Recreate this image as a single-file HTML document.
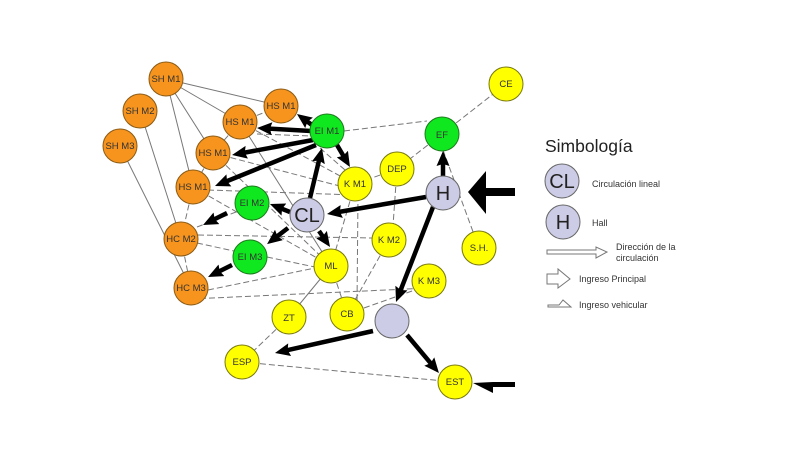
<!DOCTYPE html>
<html><head><meta charset="utf-8"><style>
html,body{margin:0;padding:0;background:#fff}
svg{display:block;font-family:"Liberation Sans",sans-serif}
.t line{stroke:#777;stroke-width:1}
.d line{stroke:#777;stroke-width:1;stroke-dasharray:6 3}
.a line{stroke:#000;stroke-width:4.5}
.o{fill:#f7941e;stroke:#8a5a14;stroke-width:1}
.g{fill:#0fe81f;stroke:#1c7a1c;stroke-width:1}
.y{fill:#ffff00;stroke:#77770f;stroke-width:1}
.p{fill:#ccccE6;stroke:#666;stroke-width:1}
.n text{font-size:9.5px;text-anchor:middle;fill:#333}
.n text.b{font-size:20px;fill:#222}
.l text{font-size:9px;fill:#333}
</style></head><body>
<svg width="800" height="450" viewBox="0 0 800 450" xmlns="http://www.w3.org/2000/svg">
<defs>
<marker id="m" markerUnits="userSpaceOnUse" markerWidth="16" markerHeight="14" refX="7" refY="6.500" orient="auto"><path d="M0 0L15 6.500L0 13L2 6.500Z" fill="#000"/></marker>
</defs>
<rect width="800" height="450" fill="#fff"/>
<g class="t">
<line x1="166" y1="79" x2="281" y2="106"/>
<line x1="166" y1="79" x2="240" y2="122"/>
<line x1="166" y1="79" x2="213" y2="153"/>
<line x1="166" y1="79" x2="193" y2="187"/>
<line x1="140" y1="111" x2="181" y2="239"/>
<line x1="120" y1="146" x2="191" y2="288"/>
<line x1="240" y1="122" x2="331" y2="266"/>
<line x1="331" y1="266" x2="289" y2="317"/>
</g>
<g class="d">
<line x1="240" y1="122" x2="281" y2="106"/>
<line x1="257" y1="134" x2="311" y2="136"/>
<line x1="240" y1="122" x2="213" y2="153"/>
<line x1="240" y1="122" x2="355" y2="184"/>
<line x1="213" y1="153" x2="193" y2="187"/>
<line x1="213" y1="153" x2="355" y2="190"/>
<line x1="213" y1="153" x2="331" y2="266"/>
<line x1="193" y1="187" x2="181" y2="239"/>
<line x1="208" y1="190" x2="355" y2="195"/>
<line x1="193" y1="187" x2="331" y2="266"/>
<line x1="181" y1="239" x2="191" y2="288"/>
<line x1="197" y1="227" x2="236" y2="212"/>
<line x1="198" y1="235" x2="372" y2="238"/>
<line x1="197" y1="243" x2="234" y2="251"/>
<line x1="267" y1="257" x2="315" y2="267"/>
<line x1="208" y1="290" x2="315" y2="268"/>
<line x1="191" y1="299" x2="429" y2="288"/>
<line x1="344" y1="131" x2="427" y2="121"/>
<line x1="320" y1="148" x2="345" y2="170"/>
<line x1="442" y1="134" x2="506" y2="84"/>
<line x1="442" y1="134" x2="397" y2="169"/>
<line x1="397" y1="169" x2="355" y2="184"/>
<line x1="397" y1="169" x2="392" y2="240"/>
<line x1="443" y1="150" x2="479" y2="248"/>
<line x1="355" y1="184" x2="331" y2="266"/>
<line x1="358" y1="195" x2="357" y2="305"/>
<line x1="389" y1="240" x2="347" y2="314"/>
<line x1="331" y1="266" x2="347" y2="314"/>
<line x1="347" y1="314" x2="429" y2="285"/>
<line x1="289" y1="317" x2="242" y2="362"/>
<line x1="242" y1="362" x2="455" y2="382"/>
</g>
<g class="a">
<line x1="312" y1="125" x2="303.400" y2="118.700" marker-end="url(#m)"/>
<line x1="311" y1="131" x2="265" y2="128.400" marker-end="url(#m)"/>
<line x1="313" y1="140" x2="239.900" y2="153.500" marker-end="url(#m)"/>
<line x1="316" y1="145" x2="222.400" y2="183" marker-end="url(#m)"/>
<line x1="310" y1="198" x2="320.100" y2="155.800" marker-end="url(#m)"/>
<line x1="337" y1="145" x2="345.900" y2="160.100" marker-end="url(#m)"/>
<line x1="426" y1="197" x2="334.900" y2="212.600" marker-end="url(#m)"/>
<line x1="443" y1="176" x2="443" y2="159" marker-end="url(#m)"/>
<line x1="433" y1="207" x2="398.900" y2="294.600" marker-end="url(#m)"/>
<line x1="290" y1="212" x2="277.400" y2="207" marker-end="url(#m)"/>
<line x1="288" y1="228" x2="273.400" y2="239.200" marker-end="url(#m)"/>
<line x1="319" y1="231" x2="325.500" y2="240.400" marker-end="url(#m)"/>
<line x1="227" y1="213" x2="210.200" y2="221.400" marker-end="url(#m)"/>
<line x1="232" y1="265" x2="215.200" y2="273.400" marker-end="url(#m)"/>
<line x1="373" y1="331" x2="282.800" y2="351.200" marker-end="url(#m)"/>
<line x1="407" y1="335" x2="433.800" y2="366.900" marker-end="url(#m)"/>
</g>
<path d="M468 192L486 171V188H515V196H486V214Z" fill="#000"/>
<path d="M473 383L493 393V387H515V382H493Z" fill="#000"/>
<g class="n">
<circle class="o" cx="166" cy="79" r="17"/><text x="166" y="82">SH M1</text>
<circle class="o" cx="140" cy="111" r="17"/><text x="140" y="114">SH M2</text>
<circle class="o" cx="120" cy="146" r="17"/><text x="120" y="149">SH M3</text>
<circle class="o" cx="281" cy="106" r="17"/><text x="281" y="109">HS M1</text>
<circle class="o" cx="240" cy="122" r="17"/><text x="240" y="125">HS M1</text>
<circle class="o" cx="213" cy="153" r="17"/><text x="213" y="156">HS M1</text>
<circle class="o" cx="193" cy="187" r="17"/><text x="193" y="190">HS M1</text>
<circle class="o" cx="181" cy="239" r="17"/><text x="181" y="242">HC M2</text>
<circle class="o" cx="191" cy="288" r="17"/><text x="191" y="291">HC M3</text>
<circle class="g" cx="327" cy="131" r="17"/><text x="327" y="134">EI M1</text>
<circle class="g" cx="252" cy="203" r="17"/><text x="252" y="206">EI M2</text>
<circle class="g" cx="250" cy="257" r="17"/><text x="250" y="260">EI M3</text>
<circle class="g" cx="442" cy="134" r="17"/><text x="442" y="138">EF</text>
<circle class="y" cx="506" cy="84" r="17"/><text x="506" y="87">CE</text>
<circle class="y" cx="397" cy="169" r="17"/><text x="397" y="172">DEP</text>
<circle class="y" cx="355" cy="184" r="17"/><text x="355" y="187">K M1</text>
<circle class="y" cx="389" cy="240" r="17"/><text x="389" y="243">K M2</text>
<circle class="y" cx="429" cy="281" r="17"/><text x="429" y="284">K M3</text>
<circle class="y" cx="479" cy="248" r="17"/><text x="479" y="251">S.H.</text>
<circle class="y" cx="331" cy="266" r="17"/><text x="331" y="269">ML</text>
<circle class="y" cx="289" cy="317" r="17"/><text x="289" y="321">ZT</text>
<circle class="y" cx="347" cy="314" r="17"/><text x="347" y="317">CB</text>
<circle class="y" cx="242" cy="362" r="17"/><text x="242" y="365">ESP</text>
<circle class="y" cx="455" cy="382" r="17"/><text x="455" y="385">EST</text>
<circle class="p" cx="307" cy="215" r="17"/><text class="b" x="307" y="222">CL</text>
<circle class="p" cx="443" cy="193" r="17"/><text class="b" x="443" y="200">H</text>
<circle class="p" cx="392" cy="321" r="17"/>
<circle class="p" cx="562" cy="181" r="17"/><text class="b" x="562" y="188">CL</text>
<circle class="p" cx="563" cy="222" r="17"/><text class="b" x="563" y="229">H</text>
</g>
<text x="545" y="152" font-size="17.5" fill="#222">Simbología</text>
<g class="l">
<text x="592" y="187">Circulación lineal</text>
<text x="592" y="226">Hall</text>
<text x="616" y="250">Dirección de la</text>
<text x="616" y="261">circulación</text>
<text x="579" y="282">Ingreso Principal</text>
<text x="579" y="308">Ingreso vehicular</text>
</g>
<path d="M547 250H596V247L607 252L596 258V254H547Z" fill="#fff" stroke="#777"/>
<path d="M547 274H558V269L570 279L558 288V284H547Z" fill="#fff" stroke="#777"/>
<path d="M548 305H559L563 300L571 307H548Z" fill="#fff" stroke="#777"/>
</svg>
</body></html>
